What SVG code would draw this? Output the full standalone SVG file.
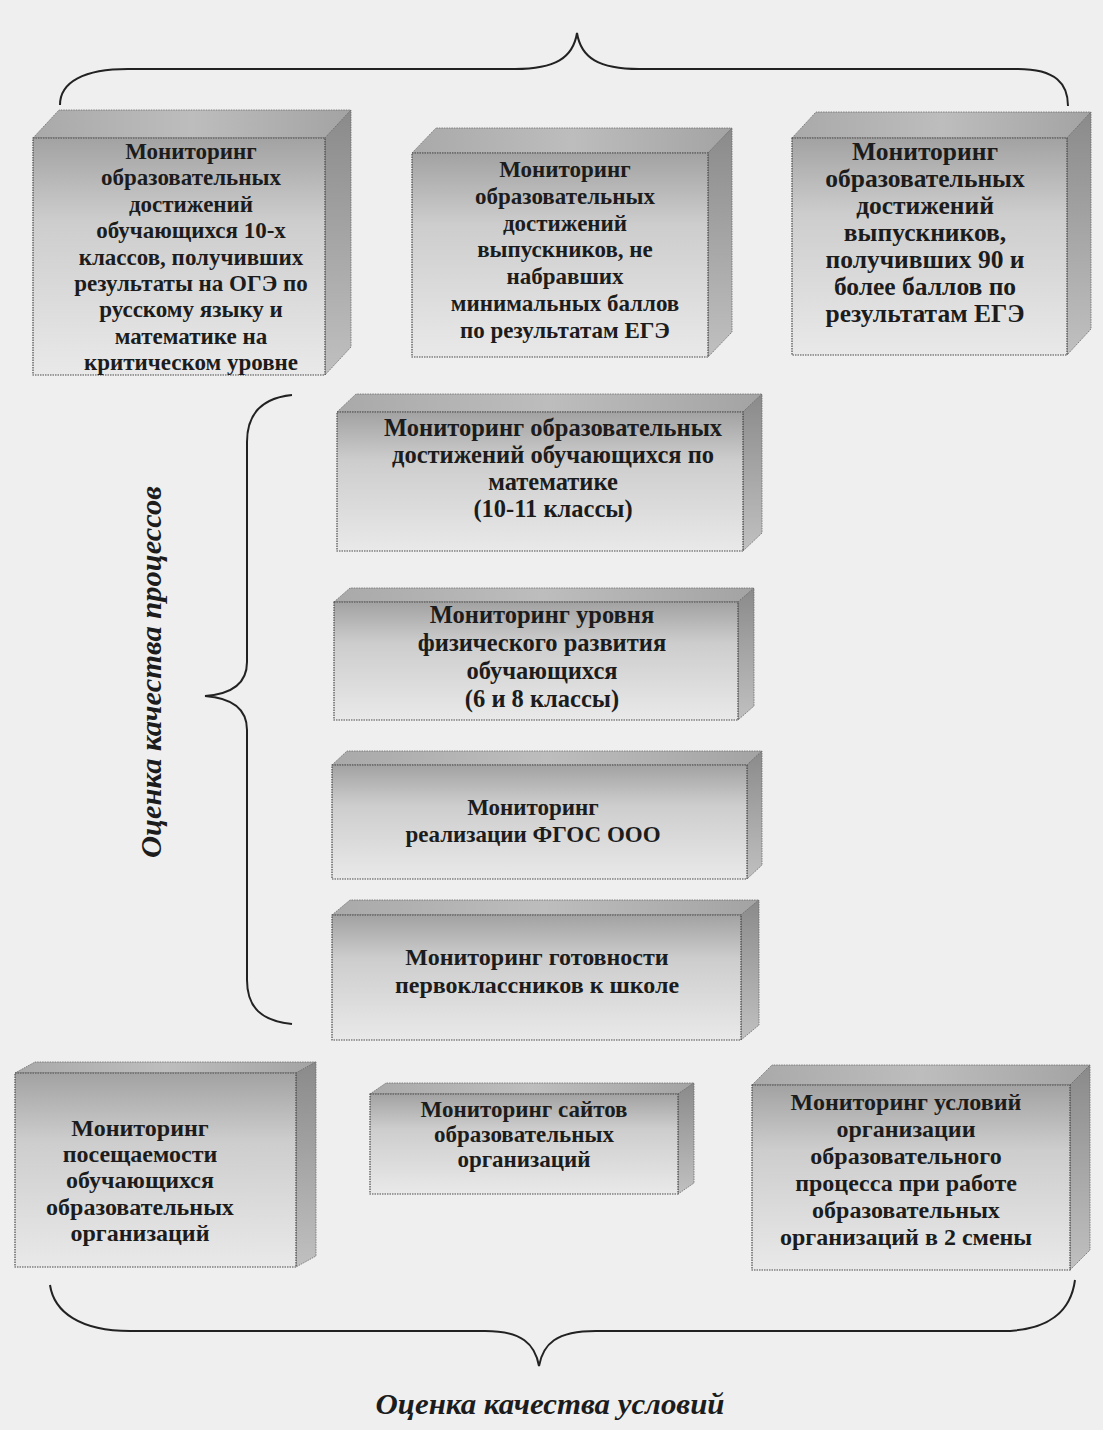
<svg xmlns="http://www.w3.org/2000/svg" width="1103" height="1430" viewBox="0 0 1103 1430">
<defs>
<linearGradient id="gFront" x1="0" y1="0" x2="0" y2="1">
<stop offset="0" stop-color="#a2a2a2"/>
<stop offset="0.35" stop-color="#cdcdcd"/>
<stop offset="1" stop-color="#e9e9e9"/>
</linearGradient>
<linearGradient id="gTop" x1="0" y1="0" x2="1" y2="0">
<stop offset="0" stop-color="#a9a9a9"/>
<stop offset="0.5" stop-color="#bdbdbd"/>
<stop offset="1" stop-color="#a3a3a3"/>
</linearGradient>
<linearGradient id="gSide" x1="0" y1="0" x2="0" y2="1">
<stop offset="0" stop-color="#8a8a8a"/>
<stop offset="0.5" stop-color="#a6a6a6"/>
<stop offset="1" stop-color="#c0c0c0"/>
</linearGradient>
</defs>
<style>
.front{fill:url(#gFront);stroke:#4a4a4a;stroke-width:1.2;stroke-dasharray:1.5 1}
.top{fill:url(#gTop);stroke:#6a6a6a;stroke-width:0.8;stroke-dasharray:1.5 1}
.side{fill:url(#gSide);stroke:#6a6a6a;stroke-width:0.8;stroke-dasharray:1.5 1}
.t{font-family:"Liberation Serif","DejaVu Serif",serif;font-weight:bold;font-size:23px;fill:#1c1c1c;text-anchor:middle}
.t245{font-size:24.5px}
.t255{font-size:25.5px}
.t24{font-size:24px}
.lbl{font-family:"Liberation Serif","DejaVu Serif",serif;font-weight:bold;font-style:italic;font-size:29px;fill:#1c1c1c}
.brace{fill:none;stroke:#222;stroke-width:2}
</style>
<rect x="0" y="0" width="1103" height="1430" fill="#efefef"/>

<g id="connectors">
<path class="brace" d="M60,105 C60,82 84,69 128,69 L515,69 C555,69 573,58 577,33 C581,58 599,69 639,69 L1018,69 C1056,69 1068,84 1068,106"/>
<path class="brace" d="M292,395 C262,398 247,414 247,442 L247,662 C247,684 232,694 205,696 C232,698 247,708 247,730 L247,980 C247,1008 262,1021 292,1024"/>
<path class="brace" d="M50,1285 C54,1312 80,1331 130,1331 L485,1331 C522,1331 535,1344 539,1366 C543,1344 556,1331 596,1331 L1002,1331 C1050,1331 1071,1310 1075,1280"/>
</g>

<g id="n1">
<polygon class="top" points="33,138 59,110 351,110 325,138"/>
<polygon class="side" points="325,138 351,110 351,347 325,375"/>
<rect class="front" x="33" y="138" width="292" height="237"/>
<text class="t" x="191" y="159">Мониторинг</text>
<text class="t" x="191" y="185.4">образовательных</text>
<text class="t" x="191" y="211.8">достижений</text>
<text class="t" x="191" y="238.2">обучающихся 10-х</text>
<text class="t" x="191" y="264.6">классов, получивших</text>
<text class="t" x="191" y="291">результаты на ОГЭ по</text>
<text class="t" x="191" y="317.4">русскому языку и</text>
<text class="t" x="191" y="343.8">математике на</text>
<text class="t" x="191" y="370.2">критическом уровне</text>
</g>

<g id="n2">
<polygon class="top" points="412,153 436,128 732,128 708,153"/>
<polygon class="side" points="708,153 732,128 732,332 708,357"/>
<rect class="front" x="412" y="153" width="296" height="204"/>
<text class="t" x="565" y="177">Мониторинг</text>
<text class="t" x="565" y="203.8">образовательных</text>
<text class="t" x="565" y="230.6">достижений</text>
<text class="t" x="565" y="257.4">выпускников, не</text>
<text class="t" x="565" y="284.2">набравших</text>
<text class="t" x="565" y="311">минимальных баллов</text>
<text class="t" x="565" y="337.8">по результатам ЕГЭ</text>
</g>

<g id="n3">
<polygon class="top" points="792,138 816,112 1091,112 1067,138"/>
<polygon class="side" points="1067,138 1091,112 1091,329 1067,355"/>
<rect class="front" x="792" y="138" width="275" height="217"/>
<text class="t t255" x="925" y="160">Мониторинг</text>
<text class="t t255" x="925" y="187">образовательных</text>
<text class="t t255" x="925" y="214">достижений</text>
<text class="t t255" x="925" y="241">выпускников,</text>
<text class="t t255" x="925" y="268">получивших 90 и</text>
<text class="t t255" x="925" y="295">более баллов по</text>
<text class="t t255" x="925" y="322">результатам ЕГЭ</text>
</g>

<g id="n4">
<polygon class="top" points="337,412 356,394 762,394 743,412"/>
<polygon class="side" points="743,412 762,394 762,533 743,551"/>
<rect class="front" x="337" y="412" width="406" height="139"/>
<text class="t t245" x="553" y="436">Мониторинг образовательных</text>
<text class="t t245" x="553" y="463">достижений обучающихся по</text>
<text class="t t245" x="553" y="490">математике</text>
<text class="t t245" x="553" y="517">(10-11 классы)</text>
</g>

<g id="n5">
<polygon class="top" points="334,602 350,588 754,588 738,602"/>
<polygon class="side" points="738,602 754,588 754,706 738,720"/>
<rect class="front" x="334" y="602" width="404" height="118"/>
<text class="t t245" x="542" y="623">Мониторинг уровня</text>
<text class="t t245" x="542" y="651">физического развития</text>
<text class="t t245" x="542" y="679">обучающихся</text>
<text class="t t245" x="542" y="707">(6 и 8 классы)</text>
</g>

<g id="n6">
<polygon class="top" points="332,765 347,751 762,751 747,765"/>
<polygon class="side" points="747,765 762,751 762,865 747,879"/>
<rect class="front" x="332" y="765" width="415" height="114"/>
<text class="t" x="533" y="815">Мониторинг</text>
<text class="t" x="533" y="842">реализации ФГОС ООО</text>
</g>

<g id="n7">
<polygon class="top" points="332,915 350,900 759,900 741,915"/>
<polygon class="side" points="741,915 759,900 759,1025 741,1040"/>
<rect class="front" x="332" y="915" width="409" height="125"/>
<text class="t t24" x="537" y="965">Мониторинг готовности</text>
<text class="t t24" x="537" y="993">первоклассников к школе</text>
</g>

<g id="n8">
<polygon class="top" points="15,1073 35,1062 316,1062 296,1073"/>
<polygon class="side" points="296,1073 316,1062 316,1256 296,1267"/>
<rect class="front" x="15" y="1073" width="281" height="194"/>
<text class="t t24" x="140" y="1136">Мониторинг</text>
<text class="t t24" x="140" y="1162">посещаемости</text>
<text class="t t24" x="140" y="1188">обучающихся</text>
<text class="t t24" x="140" y="1215">образовательных</text>
<text class="t t24" x="140" y="1241">организаций</text>
</g>

<g id="n9">
<polygon class="top" points="370,1094 386,1083 694,1083 678,1094"/>
<polygon class="side" points="678,1094 694,1083 694,1183 678,1194"/>
<rect class="front" x="370" y="1094" width="308" height="100"/>
<text class="t" x="524" y="1117">Мониторинг сайтов</text>
<text class="t" x="524" y="1142">образовательных</text>
<text class="t" x="524" y="1167">организаций</text>
</g>

<g id="n10">
<polygon class="top" points="752,1085 772,1065 1090,1065 1070,1085"/>
<polygon class="side" points="1070,1085 1090,1065 1090,1250 1070,1270"/>
<rect class="front" x="752" y="1085" width="318" height="185"/>
<text class="t t24" x="906" y="1110">Мониторинг условий</text>
<text class="t t24" x="906" y="1137">организации</text>
<text class="t t24" x="906" y="1164">образовательного</text>
<text class="t t24" x="906" y="1191">процесса при работе</text>
<text class="t t24" x="906" y="1218">образовательных</text>
<text class="t t24" x="906" y="1245">организаций в 2 смены</text>
</g>

<g id="labels">
<text class="lbl" x="0" y="0" transform="translate(161,672) rotate(-90)" text-anchor="middle" textLength="372" lengthAdjust="spacingAndGlyphs">Оценка качества процессов</text>
<text class="lbl" x="550" y="1414" text-anchor="middle" textLength="349" lengthAdjust="spacingAndGlyphs">Оценка качества условий</text>
</g>
</svg>
